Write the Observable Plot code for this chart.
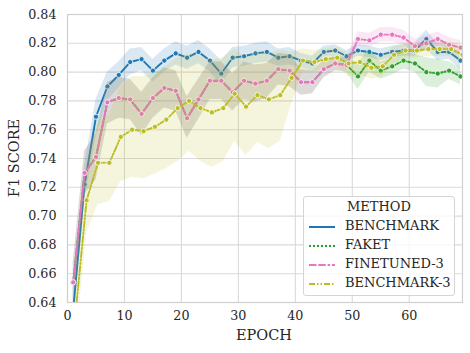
<!DOCTYPE html>
<html><head><meta charset="utf-8">
<script src="https://cdn.jsdelivr.net/npm/d3@7"></script>
<script src="https://cdn.jsdelivr.net/npm/@observablehq/plot@0.6"></script>
<style>
body{margin:0;background:#fff;}
#wrap{position:relative;width:470px;height:353px;font-family:"DejaVu Serif",serif;color:#262626;}
.lbl{position:absolute;font-size:14.5px;white-space:nowrap;}
#legend{position:absolute;left:303px;top:196px;width:152px;height:100px;border:1px solid #d5d5d5;border-radius:3px;background:rgba(255,255,255,0.8);font-size:13px;box-sizing:border-box;white-space:nowrap;}
#legend .t{position:absolute;top:2px;left:0;width:100%;text-align:center;}
#legend .row{position:absolute;left:4px;height:16px;width:146px;}
#legend .row svg{position:absolute;left:0;top:3px;}
#legend .row span{position:absolute;left:37px;top:-1px;white-space:nowrap;}
</style></head><body><div id="wrap"></div>
<script>
const methods = ["BENCHMARK", "FAKET", "FINETUNED-3", "BENCHMARK-3"];
const colors = ["#1f77b4", "#2ca02c", "#e377c2", "#bcbd22"];
const dashes = ["none", "2,2", "7.5,1.8,7.5,1.8,2.5,1.8", "6,2,1.5,2,1.5,2"];
const xTicks = [0, 10, 20, 30, 40, 50, 60];
const yTicks = [0.64, 0.66, 0.68, 0.70, 0.72, 0.74, 0.76, 0.78, 0.80, 0.82, 0.84];

const epochs = [1,3,5,7,9,11,13,15,17,19,21,23,25,27,29,31,33,35,37,39,41,43,45,47,49,51,53,55,57,59,61,63,65,67,69];
const epochs3 = [1.35,3.35,5.35,7.35,9.35,11.35,13.35,15.35,17.35,19.35,21.35,23.35,25.35,27.35,29.35,31.35,33.35,35.35,37.35,39.35,41.35,43.35,45.35,47.35,49.35,51.35,53.35,55.35,57.35,59.35,61.35,63.35,65.35,67.35,69.35];

const benchmark   = [0.635,0.722,0.769,0.790,0.798,0.807,0.809,0.801,0.808,0.813,0.810,0.814,0.808,0.799,0.810,0.811,0.813,0.814,0.810,0.811,0.808,0.806,0.814,0.815,0.811,0.815,0.814,0.812,0.814,0.815,0.815,0.823,0.814,0.814,0.808];
const benchmarkLo = [0.622,0.710,0.755,0.780,0.789,0.798,0.801,0.793,0.800,0.805,0.802,0.806,0.800,0.791,0.803,0.804,0.806,0.807,0.804,0.805,0.803,0.801,0.810,0.811,0.807,0.811,0.810,0.808,0.810,0.811,0.811,0.816,0.808,0.809,0.802];
const benchmarkHi = [0.650,0.735,0.781,0.800,0.807,0.816,0.817,0.809,0.816,0.821,0.818,0.822,0.816,0.808,0.817,0.818,0.820,0.821,0.816,0.817,0.813,0.811,0.818,0.819,0.815,0.819,0.818,0.816,0.818,0.819,0.820,0.829,0.820,0.819,0.814];

const faket   = [0.654,0.730,0.741,0.779,0.782,0.781,0.771,0.782,0.789,0.787,0.768,0.781,0.794,0.794,0.786,0.794,0.792,0.794,0.802,0.801,0.793,0.793,0.802,0.806,0.805,0.797,0.808,0.801,0.804,0.808,0.806,0.800,0.799,0.801,0.797];
const faketLo = [0.640,0.715,0.725,0.764,0.768,0.767,0.756,0.768,0.775,0.773,0.754,0.767,0.781,0.781,0.773,0.781,0.779,0.782,0.791,0.790,0.784,0.785,0.796,0.801,0.800,0.788,0.800,0.795,0.798,0.802,0.800,0.790,0.789,0.795,0.791];
const faketHi = [0.668,0.745,0.757,0.793,0.796,0.795,0.786,0.796,0.803,0.801,0.783,0.795,0.807,0.807,0.799,0.807,0.805,0.806,0.813,0.812,0.802,0.801,0.808,0.811,0.810,0.806,0.816,0.807,0.810,0.814,0.812,0.810,0.809,0.807,0.803];

const finetuned3   = [0.654,0.730,0.741,0.779,0.782,0.781,0.771,0.782,0.789,0.787,0.768,0.781,0.794,0.794,0.786,0.794,0.792,0.794,0.802,0.801,0.793,0.793,0.802,0.806,0.805,0.823,0.822,0.826,0.826,0.824,0.818,0.820,0.823,0.819,0.817];
const finetuned3Lo = [0.640,0.715,0.725,0.764,0.768,0.767,0.756,0.768,0.775,0.773,0.754,0.767,0.781,0.781,0.773,0.781,0.779,0.782,0.791,0.790,0.784,0.785,0.796,0.801,0.800,0.818,0.817,0.821,0.821,0.819,0.813,0.815,0.818,0.814,0.812];
const finetuned3Hi = [0.668,0.745,0.757,0.793,0.796,0.795,0.786,0.796,0.803,0.801,0.783,0.795,0.807,0.807,0.799,0.807,0.805,0.806,0.813,0.812,0.802,0.801,0.808,0.811,0.810,0.828,0.827,0.831,0.831,0.829,0.823,0.825,0.828,0.824,0.822];

const benchmark3   = [0.630,0.711,0.737,0.737,0.755,0.760,0.759,0.762,0.767,0.775,0.780,0.775,0.772,0.775,0.785,0.776,0.784,0.781,0.784,0.796,0.808,0.807,0.809,0.810,0.806,0.807,0.803,0.804,0.812,0.815,0.815,0.816,0.816,0.816,0.812];
const benchmark3Lo = [0.605,0.688,0.708,0.710,0.724,0.727,0.726,0.729,0.733,0.738,0.745,0.738,0.734,0.738,0.752,0.742,0.751,0.747,0.752,0.778,0.800,0.800,0.803,0.804,0.797,0.798,0.795,0.797,0.806,0.809,0.810,0.811,0.811,0.811,0.806];
const benchmark3Hi = [0.655,0.735,0.766,0.770,0.790,0.797,0.797,0.800,0.804,0.810,0.813,0.811,0.808,0.810,0.816,0.810,0.815,0.813,0.815,0.814,0.816,0.815,0.816,0.817,0.813,0.814,0.812,0.811,0.818,0.820,0.820,0.821,0.821,0.821,0.818];

const seriesX  = [epochs, epochs, epochs, epochs3];
const seriesY  = [benchmark, faket, finetuned3, benchmark3];
const seriesLo = [benchmarkLo, faketLo, finetuned3Lo, benchmark3Lo];
const seriesHi = [benchmarkHi, faketHi, finetuned3Hi, benchmark3Hi];
const bandOpacity = [0.17, 0.17, 0.17, 0.15];

const tables = methods.map((m, i) => seriesX[i].map((x, j) => ({method: m, x, y: seriesY[i][j], lo: seriesLo[i][j], hi: seriesHi[i][j]})));

const marks = [
  Plot.gridX(xTicks, {stroke: "#dadada", strokeOpacity: 1, strokeWidth: 1.1}),
  Plot.gridY(yTicks, {stroke: "#dadada", strokeOpacity: 1, strokeWidth: 1.1}),
];
tables.forEach((t, i) => {
  marks.push(Plot.areaY(t, {x: "x", y1: "lo", y2: "hi", fill: colors[i], fillOpacity: bandOpacity[i], clip: true}));
  marks.push(Plot.lineY(t, {x: "x", y: "y", stroke: colors[i], strokeWidth: 1.9, strokeDasharray: dashes[i], clip: true}));
  marks.push(Plot.dot(t, {x: "x", y: "y", r: 2.6, fill: colors[i], stroke: "white", strokeWidth: 0.8, clip: true}));
});
marks.push(Plot.frame({stroke: "#cfcfcf", strokeWidth: 1.2}));
marks.push(Plot.axisX(xTicks, {tickSize: 0, tickPadding: 8, label: null, fontSize: 12.7}));
marks.push(Plot.axisY(yTicks, {tickSize: 0, tickPadding: 11, label: null, tickFormat: d3.format(".2f"), fontSize: 12.7}));

const chart = Plot.plot({
  width: 470, height: 353,
  marginLeft: 67, marginRight: 8, marginTop: 14, marginBottom: 51,
  x: {domain: [0, 69.35]},
  y: {domain: [0.64, 0.84]},
  style: {fontFamily: "DejaVu Serif", fontSize: "12.7px", color: "#262626", background: "white"},
  marks
});
const wrap = document.getElementById("wrap");
wrap.appendChild(chart);

const xl = document.createElement("div");
xl.className = "lbl"; xl.textContent = "EPOCH";
xl.style.left = "264px"; xl.style.top = "327px"; xl.style.transform = "translateX(-50%)";
wrap.appendChild(xl);
const yl = document.createElement("div");
yl.className = "lbl"; yl.textContent = "F1 SCORE";
yl.style.left = "14px"; yl.style.top = "158px"; yl.style.transform = "translate(-50%,-50%) rotate(-90deg)";
wrap.appendChild(yl);

const lg = document.createElement("div");
lg.id = "legend";
let html = '<div class="t">METHOD</div>';
methods.forEach((m, i) => {
  html += `<div class="row" style="top:${22 + i * 19}px"><svg width="28" height="10"><line x1="1" y1="5" x2="27" y2="5" stroke="${colors[i]}" stroke-width="2" stroke-dasharray="${dashes[i]}"/></svg><span>${m}</span></div>`;
});
lg.innerHTML = html;
wrap.appendChild(lg);
</script></body></html>
